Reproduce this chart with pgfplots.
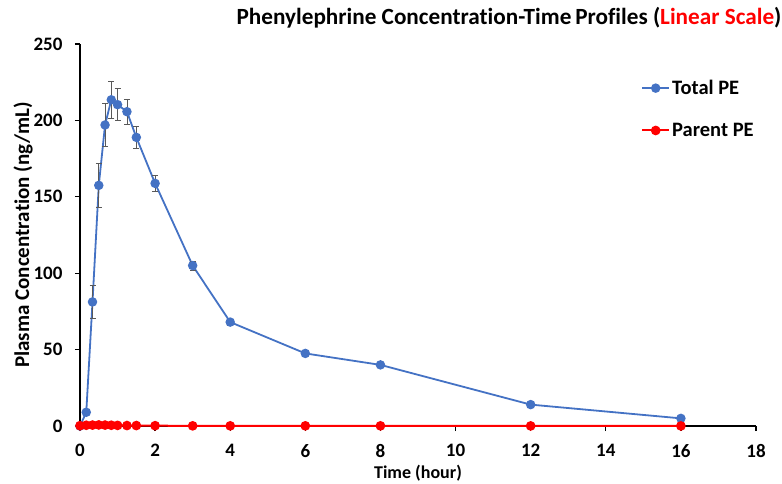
\documentclass[border=0pt]{standalone}
\usepackage{pgfplots}
\pgfplotsset{compat=1.18}
\usepackage{fontspec}
\setmainfont{Carlito}[Ligatures={NoCommon}]
\definecolor{peblue}{RGB}{68,114,196}
\definecolor{pered}{RGB}{255,0,0}
\begin{document}
\begin{tikzpicture}[x=1pt,y=1pt]
\path[use as bounding box] (-80,-57) rectangle (702,426);
\begin{axis}[
  at={(0,0)}, anchor=origin,
  scale only axis, width=676pt, height=382pt,
  xmin=0, xmax=18, ymin=0, ymax=250,
  xtick={0,2,...,18}, ytick={0,50,...,250},
  axis x line*=bottom, axis y line*=left,
  axis line style={black, line width=1.6pt, -},
  tick style={black, line width=1.3pt},
  tick align=outside, major tick length=5pt,
  ticklabel style={font=\fontsize{19}{21}\selectfont\bfseries},
  xticklabel style={yshift=-10pt},
  yticklabel style={xshift=-9pt},
  /pgf/number format/assume math mode=true,
  xlabel={Time (hour)}, ylabel={Plasma Concentration (ng/mL)},
  xlabel style={font=\fontsize{18}{20}\selectfont\bfseries, yshift=0pt},
  ylabel style={font=\fontsize{21}{23}\selectfont\bfseries, yshift=-6pt},
  clip=false,
  legend style={draw=none, fill=none, at={(558pt,350pt)}, anchor=north west,
    font=\fontsize{20.5}{23}\selectfont\bfseries, row sep=23pt,
    /tikz/every even column/.append style={column sep=1pt}},
  legend cell align=left,
  legend image code/.code={\draw[#1] (0pt,0pt) -- (27pt,0pt); \fill[#1] (13.5pt,0pt) circle (3.8pt);},
]
\addplot[peblue, line width=1.8pt, mark=*, mark size=3.8pt,
  error bars/.cd, y dir=both, y explicit,
  error bar style={gray!70!black, line width=0.8pt}, error mark options={rotate=90, mark size=3pt, gray!70!black, line width=0.8pt}]
  table[x=t, y=c, y error=e] {
t c e
0 0 0
0.167 9 2
0.333 81.2 11
0.5 157.5 14.5
0.667 197 14
0.833 213.5 12
1 210.3 10.5
1.25 205.7 8
1.5 188.9 7
2 158.8 5
3 105 3
4 68 2
6 47.5 2
8 40 1.5
12 14 1
16 5 0.5
};
\addlegendentry{Total PE}
\addplot[pered, line width=2pt, mark=*, mark size=3.8pt]
  table[x=t, y=c] {
t c
0 0.2
0.167 0.5
0.333 0.6
0.5 0.7
0.667 0.6
0.833 0.5
1 0.4
1.25 0.3
1.5 0.3
2 0.2
3 0.1
4 0.1
6 0.1
8 0.1
12 0.05
16 0.05
};
\addlegendentry{Parent PE}
\end{axis}
\node[anchor=base, font=\fontsize{23.2}{25}\selectfont\bfseries] at (429,401)
  {Phenylephrine Concentration-Time\,Profiles (\textcolor{pered}{Linear Scale})};
\end{tikzpicture}
\end{document}
